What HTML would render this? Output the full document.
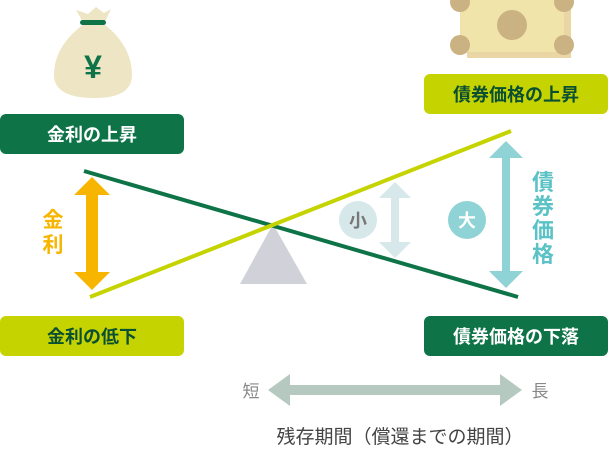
<!DOCTYPE html>
<html><head><meta charset="utf-8"><style>
html,body{margin:0;padding:0;background:#fff}
svg{display:block}
text{font-family:"Liberation Sans","Noto Sans CJK JP",sans-serif}
</style></head><body>
<svg width="608" height="454" viewBox="0 0 608 454">
<!-- money bag -->
<path d="M76 10 L88 14 L96 7 L104 13 L111 9 L104 24 Q132 46 132 75 Q132 98 95 98 Q54 98 54 75 Q54 46 84 24 Z" fill="#ede5c4"/>
<rect x="80" y="20" width="26" height="5" rx="2.5" fill="#0e7448"/>
<text x="93" y="78" font-size="32" font-weight="bold" fill="#0e7448" text-anchor="middle">¥</text>
<!-- bills -->
<rect x="467" y="6" width="104" height="52" fill="#e9d6a4"/>
<rect x="460" y="0" width="104" height="52" fill="#f0e4ab"/>
<circle cx="512" cy="25" r="15" fill="#cbb283"/>
<circle cx="460" cy="45" r="10" fill="#cbb283"/>
<circle cx="564" cy="45" r="10" fill="#cbb283"/>
<circle cx="564" cy="2" r="10" fill="#cbb283"/>
<circle cx="460" cy="2" r="10" fill="#cbb283"/>
<!-- boxes -->
<rect x="0" y="114" width="184" height="40" rx="6" fill="#0e7448"/>
<text x="92" y="141" font-size="18" font-weight="bold" fill="#fff" text-anchor="middle">金利の上昇</text>
<rect x="0" y="316" width="184" height="40" rx="6" fill="#c5d400"/>
<text x="92" y="343" font-size="18" font-weight="bold" fill="#0b4f33" text-anchor="middle">金利の低下</text>
<rect x="424" y="74" width="184" height="40" rx="6" fill="#c5d400"/>
<text x="516" y="101" font-size="18" font-weight="bold" fill="#0b4f33" text-anchor="middle">債券価格の上昇</text>
<rect x="424" y="316" width="184" height="40" rx="6" fill="#0e7448"/>
<text x="516" y="343" font-size="18" font-weight="bold" fill="#fff" text-anchor="middle">債券価格の下落</text>
<!-- fulcrum -->
<polygon points="273,224 240,284 307,284" fill="#d0d1d9"/>
<!-- lines -->
<line x1="84" y1="171" x2="518" y2="297" stroke="#0e7448" stroke-width="4"/>
<line x1="90" y1="297" x2="511" y2="131" stroke="#c5d400" stroke-width="4"/>
<!-- orange arrow -->
<polygon points="92,177 110,195 98,195 98,272 110,272 92,290 74,272 86,272 86,195 74,195" fill="#f7b500"/>
<text x="53" y="227" font-size="21" font-weight="bold" fill="#f7b500" text-anchor="middle">金</text>
<text x="53" y="252" font-size="21" font-weight="bold" fill="#f7b500" text-anchor="middle">利</text>
<!-- small arrow -->
<polygon points="395,182 411,198 399,198 399,242 411,242 395,258 379,242 391,242 391,198 379,198" fill="#d6e8ea"/>
<circle cx="358" cy="220" r="19" fill="#d6e8ea"/>
<text x="358" y="227" font-size="18" font-weight="bold" fill="#777" text-anchor="middle">小</text>
<!-- big arrow -->
<polygon points="506,141 523,158 510,158 510,271 523,271 506,288 489,271 502,271 502,158 489,158" fill="#8fd3d6"/>
<circle cx="467" cy="220" r="19" fill="#8fd3d6"/>
<text x="467" y="227" font-size="18" font-weight="bold" fill="#fff" text-anchor="middle">大</text>
<g font-size="22" font-weight="bold" fill="#5bc2c6" text-anchor="middle">
<text x="543" y="190">債</text><text x="543" y="214">券</text><text x="543" y="238">価</text><text x="543" y="262">格</text>
</g>
<!-- bottom arrow -->
<polygon points="268,390 290,374 290,385 500,385 500,374 522,390 500,406 500,395 290,395 290,406" fill="#b5c9c0"/>
<text x="251" y="397" font-size="17" fill="#888" text-anchor="middle">短</text>
<text x="540" y="397" font-size="17" fill="#888" text-anchor="middle">長</text>
<text x="400" y="443" font-size="19" fill="#444" text-anchor="middle">残存期間（償還までの期間）</text>
</svg>
</body></html>
